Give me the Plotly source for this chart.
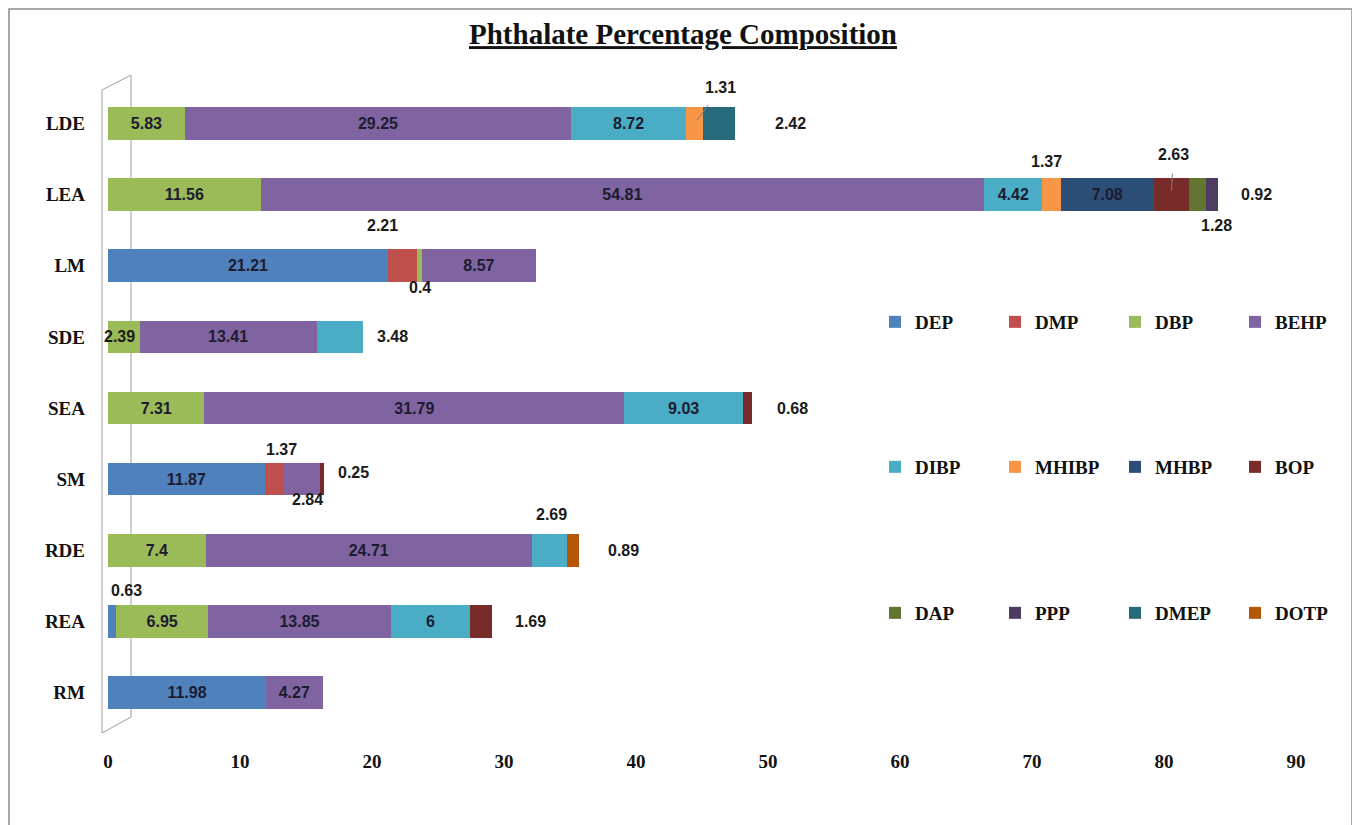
import plotly.graph_objects as go

categories = ["LDE", "LEA", "LM", "SDE", "SEA", "SM", "RDE", "REA", "RM"]

series_names = ["DEP", "DMP", "DBP", "BEHP", "DIBP", "MHIBP",
                "MHBP", "BOP", "DAP", "PPP", "DMEP", "DOTP"]

DEP   = [None, None, 21.21, None, None, 11.87, None, 0.63, 11.98]
DMP   = [None, None, 2.21, None, None, 1.37, None, None, None]
DBP   = [5.83, 11.56, 0.4, 2.39, 7.31, None, 7.4, 6.95, None]
BEHP  = [29.25, 54.81, 8.57, 13.41, 31.79, 2.84, 24.71, 13.85, 4.27]
DIBP  = [8.72, 4.42, None, 3.48, 9.03, None, 2.69, 6, None]
MHIBP = [1.31, 1.37, None, None, None, None, None, None, None]
MHBP  = [None, 7.08, None, None, None, None, None, None, None]
BOP   = [None, 2.63, None, None, 0.68, 0.25, None, 1.69, None]
DAP   = [None, 1.28, None, None, None, None, None, None, None]
PPP   = [None, 0.92, None, None, None, None, None, None, None]
DMEP  = [2.42, None, None, None, None, None, None, None, None]
DOTP  = [None, None, None, None, None, None, 0.89, None, None]

series_values = [DEP, DMP, DBP, BEHP, DIBP, MHIBP, MHBP, BOP, DAP, PPP, DMEP, DOTP]

colors = ["#4F81BD", "#C0504D", "#9BBB59", "#8064A2", "#4BACC6", "#F79646",
          "#2C4D75", "#772C2A", "#5F7530", "#4D3B62", "#276A7C", "#B65708"]

legend_groups = ["legend"] * 4 + ["legend2"] * 4 + ["legend3"] * 4

# labels placed outside the bars: (category, series, mode, xshift, yshift)
outside_labels = [
    ("LDE", "MHIBP", "arrow", 26, -36),
    ("LDE", "DMEP", "end", 38, 0),
    ("LEA", "MHIBP", "mid", -5, 33),
    ("LEA", "BOP", "arrow", 2, -40),
    ("LEA", "PPP", "end", 21, 0),
    ("LEA", "DAP", "mid", 19, -31),
    ("LM", "DMP", "mid", -20, 40),
    ("LM", "DBP", "mid", 0, -22),
    ("SDE", "DBP", "mid", -4, 0),
    ("SDE", "DIBP", "end", 12, 0),
    ("SEA", "BOP", "end", 23, 0),
    ("SM", "DMP", "mid", 8, 30),
    ("SM", "BOP", "end", 12, 7),
    ("SM", "BEHP", "mid", 6, -20),
    ("RDE", "DIBP", "mid", 2, 36),
    ("RDE", "DOTP", "end", 27, 0),
    ("REA", "DEP", "mid", 14, 31),
    ("REA", "BOP", "end", 21, 0),
]
outside_keys = {(c, s) for c, s, *_ in outside_labels}

SERIF = "Liberation Serif"
SANS = "Liberation Sans"

fig = go.Figure()
for name, vals, col, lg in zip(series_names, series_values, colors, legend_groups):
    texts = []
    for cat, v in zip(categories, vals):
        if v is None or (cat, name) in outside_keys:
            texts.append("")
        else:
            texts.append(f"{v:g}")
    fig.add_trace(go.Bar(
        name=name, y=categories, x=vals, orientation="h",
        marker=dict(color=col, line=dict(width=0)),
        text=texts, textposition="inside", insidetextanchor="middle",
        textangle=0, constraintext="none",
        textfont=dict(family=SANS, size=16, color="#1c1c30", weight="bold"),
        legend=lg, cliponaxis=False,
    ))

# cumulative positions for outside labels
cum = {}
for ci, cat in enumerate(categories):
    acc = 0.0
    for name, vals in zip(series_names, series_values):
        v = vals[ci]
        if v is None:
            continue
        cum[(cat, name)] = (acc, acc + v)
        acc += v

annotations = []
for cat, name, mode, dx, dy in outside_labels:
    start, end = cum[(cat, name)]
    txt = f"{series_values[series_names.index(name)][categories.index(cat)]:g}"
    font = dict(family=SANS, size=16, color="#1a1a1a", weight="bold")
    if mode == "end":
        total = max(e for (c, _), (_, e) in cum.items() if c == cat)
        annotations.append(dict(x=total, y=cat, xref="x", yref="y", text=txt,
                                showarrow=False, xanchor="left", xshift=dx, yshift=dy, font=font))
    elif mode == "mid":
        annotations.append(dict(x=(start + end) / 2, y=cat, xref="x", yref="y", text=txt,
                                showarrow=False, xanchor="center", xshift=dx, yshift=dy, font=font))
    else:
        annotations.append(dict(x=(start + end) / 2, y=cat, xref="x", yref="y", text=txt,
                                showarrow=True, arrowhead=0, arrowwidth=1, arrowcolor="#808080",
                                ax=dx, ay=dy, standoff=4, startstandoff=9, font=font))

# chart layout geometry (pixels); the page body adds an 8px offset
OFF = 8
W, H = 1360, 825
L, R, T, B = 100, 72, 80, 105
pw, ph = W - L - R, H - T - B

def px(x):
    return (x - OFF - L) / pw

def py(y):
    return (H - B - (y - OFF)) / ph

shapes = [
    dict(type="rect", xref="paper", yref="paper",
         x0=px(9), x1=px(1352), y0=py(840), y1=py(9),
         line=dict(color="#8c8c8c", width=1.5), fillcolor="rgba(0,0,0,0)", layer="below"),
    dict(type="path", xref="paper", yref="paper",
         path=(f"M{px(102)},{py(90)} L{px(131)},{py(75)} L{px(131)},{py(717)} "
               f"L{px(102)},{py(733)} Z"),
         line=dict(color="#a0a0a0", width=1), fillcolor="rgba(0,0,0,0)", layer="below"),
]

leg_common = dict(orientation="h", entrywidth=75, entrywidthmode="pixels",
                  font=dict(family=SERIF, size=19, color="#111111", weight="bold"),
                  bgcolor="rgba(0,0,0,0)", xanchor="left", yanchor="middle",
                  traceorder="normal", itemwidth=30,
                  itemclick=False, itemdoubleclick=False, tracegroupgap=0)

fig.update_layout(
    width=W, height=H,
    margin=dict(l=L, r=R, t=T, b=B, autoexpand=False),
    barmode="stack", bargap=0.54,
    paper_bgcolor="white", plot_bgcolor="white",
    title=dict(text="<u>Phthalate Percentage Composition</u>",
               x=(683 - OFF) / W, xref="container", xanchor="center",
               y=1 - (34 - OFF) / H, yref="container", yanchor="middle",
               font=dict(family=SERIF, size=29, color="#111111", weight="bold")),
    xaxis=dict(range=[0, 90], tickvals=list(range(0, 91, 10)), showgrid=False,
               zeroline=False, showline=False, ticks="", ticklabelstandoff=20,
               tickfont=dict(family=SERIF, size=19, color="#111111", weight="bold")),
    yaxis=dict(categoryorder="array", categoryarray=categories, autorange="reversed",
               showgrid=False, zeroline=False, showline=False, ticks="",
               ticklabelstandoff=22,
               tickfont=dict(family=SERIF, size=19, color="#111111", weight="bold")),
    legend=dict(x=px(875), y=py(322), **leg_common),
    legend2=dict(x=px(875), y=py(467), **leg_common),
    legend3=dict(x=px(875), y=py(613), **leg_common),
    annotations=annotations,
    shapes=shapes,
    showlegend=True,
)

fig.write_html("out.html")
